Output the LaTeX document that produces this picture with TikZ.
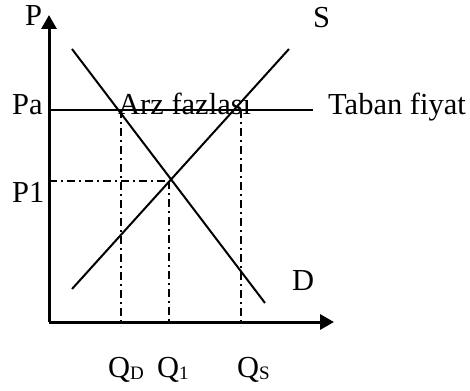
\documentclass[tikz,border=0pt]{standalone}
\usepackage{fontspec}
\setmainfont{Liberation Serif}
\usetikzlibrary{arrows.meta}
\begin{document}
\begin{tikzpicture}[x=1pt,y=-1pt,
  lbl/.style={anchor=base west,inner sep=0pt,font=\fontsize{30.5}{34}\selectfont},
  axisline/.style={line width=3pt},
  curve/.style={line width=2pt},
  guide/.style={line width=2pt,dash pattern=on 8pt off 4pt on 2pt off 4pt},
  tipv/.style={-{Triangle[width=15pt,length=14pt]}}
]
\useasboundingbox (0,0) rectangle (470,390);
% coordinates
\coordinate (O) at (49,322);
\coordinate (Ytop) at (49,15);
\coordinate (Xend) at (334,322);
\coordinate (PaL) at (49,110);
\coordinate (PaR) at (313,110);
\coordinate (Dtop) at (72,49);
\coordinate (Dbot) at (265,303);
\coordinate (Sbot) at (72,289);
\coordinate (Stop) at (289,49);
\coordinate (E) at (169,181);
\coordinate (P1L) at (49,181);
\coordinate (Q1b) at (169,322);
\coordinate (QDt) at (121,110);
\coordinate (QDb) at (121,326);
\coordinate (QSt) at (241,110);
\coordinate (QSb) at (241,326);
% labels
\node[lbl] (P) at (25,26) {P};
\node[lbl] (Pa) at (12,115) {Pa};
\node[lbl] (P1) at (12,202) {P1};
\node[lbl] (arz) at (118,115) {Arz fazlası};
\node[lbl] (taban) at (328,115) {Taban fiyat};
\node[lbl] (S) at (313,28) {S};
\node[lbl] (D) at (292,290) {D};
\node[lbl] (QD) at (108,377) {Q\raisebox{-2pt}{\fontsize{19}{19}\selectfont D}};
\node[lbl] (Q1) at (157,377) {Q\raisebox{-2pt}{\fontsize{19}{19}\selectfont 1}};
\node[lbl] (QS) at (237,377) {Q\raisebox{-2pt}{\fontsize{19}{19}\selectfont S}};
% guides
\draw[guide] (P1L) -- (E);
\draw[guide] (E) -- (Q1b);
\draw[guide] (QDt) -- (QDb);
\draw[guide] (QSt) -- (QSb);
% curves
\draw[curve] (PaL) -- (PaR);
\draw[curve] (Dtop) -- (Dbot);
\draw[curve] (Sbot) -- (Stop);
% axes
\draw[axisline,tipv] (O) -- (Ytop);
\draw[axisline,tipv] (O) -- (Xend);
\end{tikzpicture}
\end{document}
